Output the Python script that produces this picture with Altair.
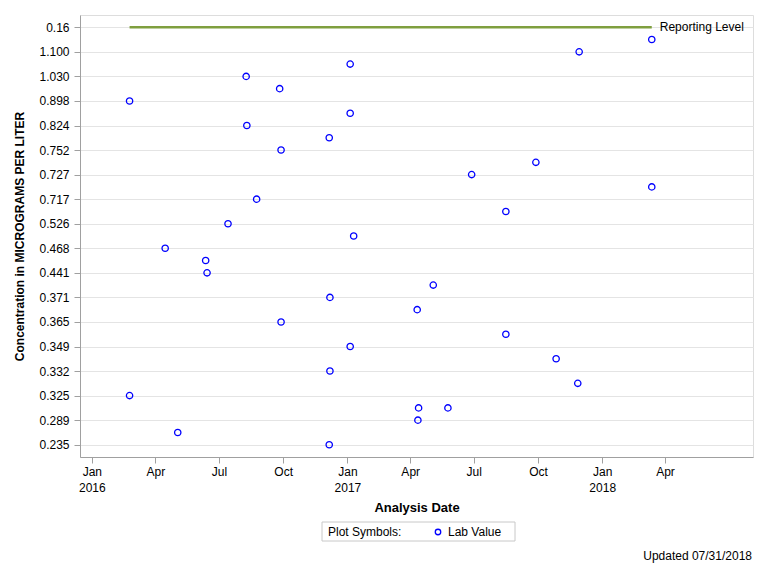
import altair as alt
import pandas as pd

# y categories (discrete axis, top to bottom); every other one is labelled
levels = ["0.16", "1.130", "1.100", "1.060", "1.030", "0.962", "0.898", "0.861",
          "0.824", "0.788", "0.752", "0.740", "0.727", "0.722", "0.717", "0.620",
          "0.526", "0.497", "0.468", "0.455", "0.441", "0.406", "0.371", "0.368",
          "0.365", "0.357", "0.349", "0.340", "0.332", "0.328", "0.325", "0.307",
          "0.289", "0.262", "0.235"]
labeled = levels[::2]

dates = ["2016-02-24", "2016-02-24", "2016-04-15", "2016-05-03", "2016-06-12",
         "2016-06-14", "2016-07-14", "2016-08-09", "2016-08-10", "2016-08-24",
         "2016-09-26", "2016-09-28", "2016-09-28", "2016-12-06", "2016-12-07",
         "2016-12-07", "2016-12-06", "2017-01-05", "2017-01-05", "2017-01-05",
         "2017-01-10", "2017-05-04", "2017-04-11", "2017-04-13", "2017-04-12",
         "2017-05-25", "2017-06-28", "2017-08-16", "2017-08-16", "2017-09-28",
         "2017-10-27", "2017-11-27", "2017-11-29", "2018-03-13", "2018-03-13"]
values = ["0.898", "0.325", "0.468", "0.262", "0.455",
          "0.441", "0.526", "1.030", "0.824", "0.717",
          "0.962", "0.752", "0.365", "0.788", "0.371",
          "0.332", "0.235", "1.060", "0.861", "0.349",
          "0.497", "0.406", "0.368", "0.307", "0.289",
          "0.307", "0.727", "0.620", "0.357", "0.740",
          "0.340", "0.328", "1.100", "1.130", "0.722"]

rep_level = "0.16"
rep_start = "2016-02-24"
rep_end = "2018-03-13"

tick_dates = ["2016-01-01", "2016-04-01", "2016-07-01", "2016-10-01",
              "2017-01-01", "2017-04-01", "2017-07-01", "2017-10-01",
              "2018-01-01", "2018-04-01"]

def dt(s):
    y, m, d = (int(p) for p in s.split("-"))
    return alt.DateTime(year=y, month=m, date=d)

pts = pd.DataFrame({"date": [d + "T00:00:00" for d in dates], "value": values})
rep = pd.DataFrame({"start": [rep_start + "T00:00:00"], "end": [rep_end + "T00:00:00"],
                    "level": [rep_level], "label": ["Reporting Level"]})

FONT = "Liberation Sans"
W, H = 673, 442

xscale = alt.Scale(domain=[dt("2015-12-15"), dt("2018-08-05")])
yscale = alt.Scale(type="point", domain=levels, padding=1)

common = dict(labelFont=FONT, titleFont=FONT, labelFontSize=12,
              labelColor="#000000", titleColor="#000000", titleFontWeight="bold",
              domainColor="#a0a0a0", tickColor="#a0a0a0", gridColor="#e4e4e4")

xaxis = alt.Axis(
    title="Analysis Date", values=[dt(t) for t in tick_dates],
    labelExpr="month(datum.value)==0 ? [timeFormat(datum.value,'%b'), timeFormat(datum.value,'%Y')] : timeFormat(datum.value,'%b')",
    grid=False, tickSize=6, labelPadding=3, labelLineHeight=16, titleFontSize=13,
    titleX=W / 2, titleY=44, labelAngle=0, **common,
)
yaxis = alt.Axis(
    title="Concentration in MICROGRAMS PER LITER", values=labeled, titleFontSize=12,
    grid=True, tickSize=6, labelPadding=5, titleX=-54, titleY=H / 2, **common,
)

points = alt.Chart(pts).mark_point(
    shape="circle", filled=False, color="#0000ff", size=40, strokeWidth=1.3, opacity=1
).encode(
    x=alt.X("date:T", scale=xscale, axis=xaxis),
    y=alt.Y("value:O", scale=yscale, axis=yaxis),
)

rule = alt.Chart(rep).mark_rule(color="#7f9f3f", strokeWidth=2.5).encode(
    x="start:T", x2="end:T", y="level:O"
)
rule_text = alt.Chart(rep).mark_text(
    align="left", baseline="middle", dx=8, fontSize=12, font=FONT, color="#000000"
).encode(x="end:T", y="level:O", text="label:N")

legend_df = pd.DataFrame({"a": [0]})
box = alt.Chart(legend_df).mark_rect(fill="white", stroke="#c8c8c8", strokeWidth=1).encode(
    x=alt.value(242), x2=alt.value(435), y=alt.value(507), y2=alt.value(526)
)
leg_t1 = alt.Chart(legend_df).mark_text(
    text="Plot Symbols:", align="left", baseline="middle", fontSize=12, font=FONT, color="#000000"
).encode(x=alt.value(248), y=alt.value(517))
leg_sym = alt.Chart(legend_df).mark_point(
    shape="circle", filled=False, color="#0000ff", size=30, strokeWidth=1.3, opacity=1
).encode(x=alt.value(358), y=alt.value(517))
leg_t2 = alt.Chart(legend_df).mark_text(
    text="Lab Value", align="left", baseline="middle", fontSize=12, font=FONT, color="#000000"
).encode(x=alt.value(368), y=alt.value(517))
foot = alt.Chart(legend_df).mark_text(
    text="Updated 07/31/2018", align="right", baseline="middle", fontSize=12, font=FONT, color="#000000"
).encode(x=alt.value(672), y=alt.value(541))

chart = alt.layer(
    rule, points, rule_text, box, leg_t1, leg_sym, leg_t2, foot
).properties(
    width=W, height=H,
    padding={"left": 72, "top": 7, "right": 6, "bottom": 108},
    autosize=alt.AutoSizeParams(type="none"),
).configure_view(
    stroke="#a0a0a0", strokeWidth=1
).configure(background="white")

chart.save("out.html", embed_options={"renderer": "svg", "actions": False})
